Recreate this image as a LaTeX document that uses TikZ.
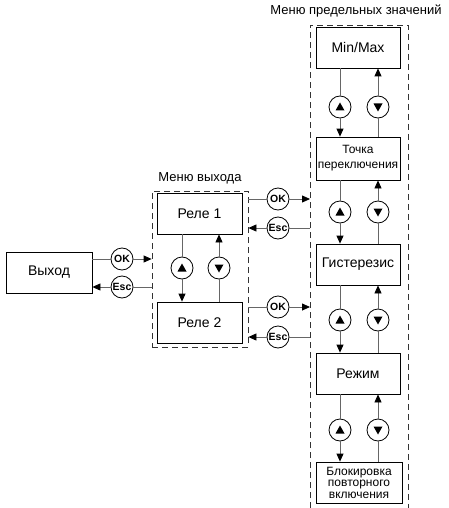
\documentclass[tikz,border=0pt]{standalone}
\usepackage{fontspec}
\setmainfont{Liberation Sans}
\usetikzlibrary{arrows.meta,calc}
\begin{document}
\begin{tikzpicture}[x=1pt,y=-1pt,
  box/.style={draw=black,line width=0.8pt,minimum width=85pt,minimum height=41pt,inner sep=0pt,align=center,font=\fontsize{14}{16}\selectfont},
  tbox/.style={box,font=\fontsize{12}{15}\selectfont},
  bbox/.style={box,font=\fontsize{12}{11.5}\selectfont},
  btn/.style={circle,draw=black,line width=0.8pt,minimum size=22pt,inner sep=0pt,fill=white,font=\bfseries\fontsize{10.5}{10.5}\selectfont},
  updn/.style={circle,draw=black,line width=0.8pt,minimum size=22pt,inner sep=0pt,fill=white},
  upbtn/.style={updn,path picture={\fill[black] ($(path picture bounding box.center)+(0,-4.5)$) -- ++(-4.5,8) -- ++(9,0) -- cycle;}},
  dnbtn/.style={updn,path picture={\fill[black] ($(path picture bounding box.center)+(0,4.5)$) -- ++(-4.5,-8) -- ++(9,0) -- cycle;}},
  conn/.style={draw=black!60,line width=0.8pt},
  arr/.style={conn,-{Triangle[length=8pt,width=7pt,color=black]}},
  menu/.style={draw=black!80,dash pattern=on 6pt off 4pt,line width=0.8pt},
  lbl/.style={font=\fontsize{13}{15}\selectfont,inner sep=0pt}
]
\useasboundingbox (0,0) rectangle (449,508);

% left box
\node[box,minimum width=86pt] (vyhod) at (49,272.5) {Выход};
\node[btn] (ok0) at (122,259) {OK};
\node[btn] (esc0) at (122,287) {Esc};

% output menu
\node[menu,minimum width=96pt,minimum height=156pt,inner sep=0pt] (m1) at (200,269) {};
\node[lbl] (m1lbl) at (200,178) {Меню выхода};
\node[box] (rele1) at (199.5,213.5) {Реле 1};
\node[box] (rele2) at (199.5,322.5) {Реле 2};
\node[upbtn] (u1) at (182,268) {};
\node[dnbtn] (d1) at (219,268) {};

% limit menu
\coordinate (m2sw) at (310,508);
\coordinate (m2nw) at (310,25);
\coordinate (m2ne) at (408,25);
\coordinate (m2se) at (408,508);
\draw[menu] (m2sw) -- (m2nw) -- (m2ne) -- (m2se);
\node[lbl] (m2lbl) at (356,11) {Меню предельных значений};

\node[box,minimum width=84pt] (mm) at (358,47.5) {Min/Max};
\node[tbox,minimum width=84pt,minimum height=43pt] (tp) at (358,158.5) {Точка\\переключения};
\node[box,minimum width=84pt] (gs) at (358,264.5) {Гистерезис};
\node[box,minimum width=84pt] (rz) at (358,373.5) {Режим};
\node[bbox,minimum width=86pt] (bl) at (359,482.5) {Блокировка\\повторного\\включения};

\node[upbtn] (u2) at (340,107) {};
\node[dnbtn] (d2) at (378,107) {};
\node[upbtn] (u3) at (340,212) {};
\node[dnbtn] (d3) at (378,212) {};
\node[upbtn] (u4) at (340,320) {};
\node[dnbtn] (d4) at (378,320) {};
\node[upbtn] (u5) at (340,430) {};
\node[dnbtn] (d5) at (378,430) {};

% buttons between menus
\node[btn] (ok1) at (278,199) {OK};
\node[btn] (esc1) at (278,228) {Esc};
\node[btn] (ok2) at (278,307) {OK};
\node[btn] (esc2) at (278,337) {Esc};

% horizontal connectors
\draw[conn] (vyhod.east |- ok0) -- (ok0);
\draw[arr] (ok0) -- (m1.west |- ok0);
\draw[conn] (m1.west |- esc0) -- (esc0);
\draw[arr] (esc0) -- (vyhod.east |- esc0);

\draw[conn] (m1.east |- ok1) -- (ok1);
\draw[arr] (ok1) -- (m2nw |- ok1);
\draw[conn] (m2nw |- esc1) -- (esc1);
\draw[arr] (esc1) -- (m1.east |- esc1);

\draw[conn] (m1.east |- ok2) -- (ok2);
\draw[arr] (ok2) -- (m2nw |- ok2);
\draw[conn] (m2nw |- esc2) -- (esc2);
\draw[arr] (esc2) -- (m1.east |- esc2);

% vertical connectors
\draw[conn] (rele1.south -| u1) -- (u1);
\draw[arr] (u1) -- (rele2.north -| u1);
\draw[conn] (rele2.north -| d1) -- (d1);
\draw[arr] (d1) -- (rele1.south -| d1);

\draw[conn] (mm.south -| u2) -- (u2);
\draw[arr] (u2) -- (tp.north -| u2);
\draw[conn] (tp.north -| d2) -- (d2);
\draw[arr] (d2) -- (mm.south -| d2);

\draw[conn] (tp.south -| u3) -- (u3);
\draw[arr] (u3) -- (gs.north -| u3);
\draw[conn] (gs.north -| d3) -- (d3);
\draw[arr] (d3) -- (tp.south -| d3);

\draw[conn] (gs.south -| u4) -- (u4);
\draw[arr] (u4) -- (rz.north -| u4);
\draw[conn] (rz.north -| d4) -- (d4);
\draw[arr] (d4) -- (gs.south -| d4);

\draw[conn] (rz.south -| u5) -- (u5);
\draw[arr] (u5) -- (bl.north -| u5);
\draw[conn] (bl.north -| d5) -- (d5);
\draw[arr] (d5) -- (rz.south -| d5);
\end{tikzpicture}
\end{document}
